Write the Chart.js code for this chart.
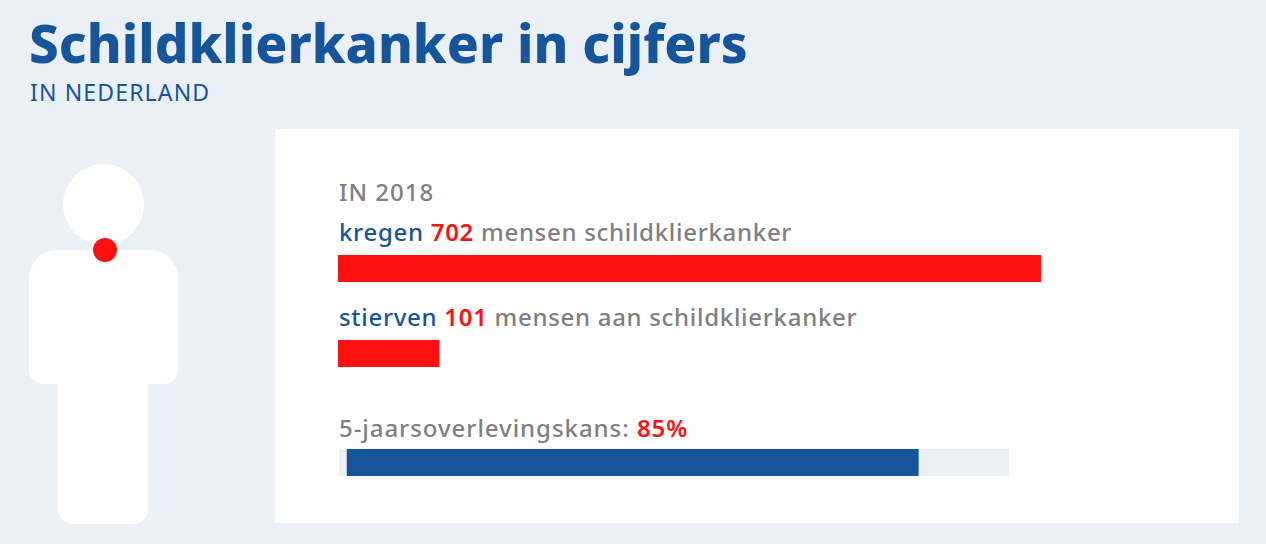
<!DOCTYPE html>
<html lang="nl">
<head>
<meta charset="utf-8">
<title>Schildklierkanker in cijfers</title>
<script src="https://cdn.jsdelivr.net/npm/chart.js@4"></script>
<style>
  html, body { margin: 0; padding: 0; }
  body { width: 1266px; height: 544px; background: #ebf0f7; position: relative; overflow: hidden; font-family: "Noto Sans", sans-serif; }
  body * { position: absolute; white-space: nowrap; }
  h1 { margin: 0; left: 29px; top: 8px; font-size: 53px; line-height: 70px; font-weight: 800; color: #16559c; letter-spacing: 0.03px; }
  h2 { margin: 0; left: 30px; top: 77px; font-size: 23px; line-height: 30px; font-weight: 400; color: #16559c; letter-spacing: 1.15px; }
  #card { left: 275px; top: 129px; width: 964px; height: 394px; background: #fff; }
  .label { left: 339px; font-size: 24px; line-height: 30px; font-weight: 500; color: #808080; letter-spacing: 0.7px; }
  .label span { position: static; }
  .who { color: #16559c; }
  .num { color: #ff1010; font-weight: 600; }
  .shape { background: #fff; }
  canvas { display: block; }
</style>
</head>
<body>
<h1>Schildklierkanker in cijfers</h1>
<h2>IN NEDERLAND</h2>

<!-- figure -->
<div class="shape" style="left:63px;top:164px;width:81px;height:81px;border-radius:50%"></div>
<div class="shape" style="left:29px;top:250px;width:149px;height:134px;border-radius:28px 28px 14px 14px"></div>
<div class="shape" style="left:58px;top:380px;width:90px;height:144px;border-radius:0 0 15px 15px"></div>
<div style="left:93px;top:238px;width:24px;height:24px;border-radius:50%;background:#ff1010"></div>

<div id="card"></div>
<div class="label" style="top:177px;letter-spacing:1px">IN 2018</div>
<div class="label" style="top:217px"><span class="who">kregen</span> <span class="num">702</span> mensen schildklierkanker</div>
<div class="label" style="top:302px"><span class="who">stierven</span> <span class="num">101</span> mensen aan schildklierkanker</div>
<div class="label" style="top:413px;letter-spacing:0.95px">5-jaarsoverlevingskans: <span class="num">85%</span></div>

<div style="left:338px;top:255px;width:703px;height:27px"><canvas id="casesChart"></canvas></div>
<div style="left:338px;top:340px;width:703px;height:27px"><canvas id="deathsChart"></canvas></div>
<div style="left:339px;top:449px;width:670px;height:27px"><canvas id="survivalChart"></canvas></div>

<script>
const casesLabels = ['kregen'];
const casesValues = [702];
const deathsLabels = ['stierven'];
const deathsValues = [101];
const survivalLabels = ['5-jaarsoverlevingskans'];
const survivalValues = [85];
const survivalTrack = [[-1.2, 98.5]];

const RED = '#ff1010';
const BLUE = '#16559c';
const TRACK = '#ebf0f7';

// shared options: a bare horizontal bar filling its whole canvas
function barOptions(xMin, xMax) {
  return {
    indexAxis: 'y',
    responsive: true,
    maintainAspectRatio: false,
    animation: false,
    layout: { padding: 0 },
    plugins: { legend: { display: false }, tooltip: { enabled: false } },
    scales: {
      x: { display: false, min: xMin, max: xMax },
      y: { display: false }
    }
  };
}

function countChart(id, labels, values) {
  return new Chart(document.getElementById(id), {
    type: 'bar',
    data: {
      labels: labels,
      datasets: [{ data: values, backgroundColor: RED, barPercentage: 1, categoryPercentage: 1 }]
    },
    options: barOptions(0, 702)
  });
}

countChart('casesChart', casesLabels, casesValues);
countChart('deathsChart', deathsLabels, deathsValues);

new Chart(document.getElementById('survivalChart'), {
  type: 'bar',
  data: {
    labels: survivalLabels,
    datasets: [
      { data: survivalValues, backgroundColor: BLUE, barPercentage: 1, categoryPercentage: 1, grouped: false, order: 1 },
      { data: survivalTrack, backgroundColor: TRACK, barPercentage: 1, categoryPercentage: 1, grouped: false, order: 2 }
    ]
  },
  options: barOptions(-1.2, 98.5)
});
</script>
</body>
</html>
